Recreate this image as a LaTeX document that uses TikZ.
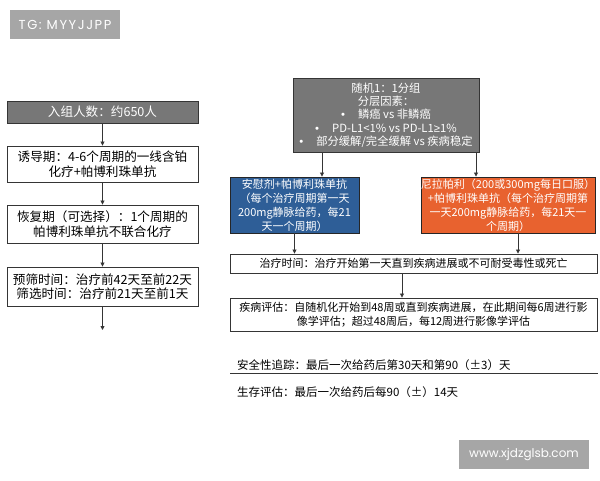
\documentclass[tikz,border=0pt]{standalone}
\usepackage{fontspec}
\setmainfont{Noto Sans CJK SC}
\newfontfamily\wmfont{Poppins}
\newfontfamily\wmwide[LetterSpace=12]{Poppins}
\newfontfamily\latfont{Liberation Sans}
\usetikzlibrary{arrows.meta}
\definecolor{boxgray}{HTML}{777777}
\definecolor{boxblue}{HTML}{2E5E97}
\definecolor{boxorange}{HTML}{E8622F}
\definecolor{wmgray}{HTML}{A6A6A6}
\definecolor{linecol}{HTML}{353535}
\begin{document}
\begin{tikzpicture}[x=1pt,y=-1pt,
  box/.style={draw=linecol, line width=0.9pt, inner sep=0pt, align=center, fill=white},
  leftbox/.style={box, minimum width=191pt, font=\fontsize{12.6}{14.5}\selectfont},
  darkbox/.style={box, fill=boxgray, text=white},
  bluebox/.style={box, fill=boxblue, draw=black!85, text=white, font=\fontsize{11}{14}\selectfont},
  orangebox/.style={box, fill=boxorange, draw=black!85, text=white, font=\fontsize{11}{14}\selectfont},
  widebox/.style={box, minimum width=367pt, font=\fontsize{11}{13.5}\selectfont},
  plain/.style={inner sep=0pt, anchor=west, font=\fontsize{11.5}{14}\selectfont},
  wm/.style={fill=wmgray, text=white, inner sep=0pt, font=\wmfont\fontsize{12}{14}\selectfont},
  arr/.style={draw=linecol, line width=0.8pt, -{Triangle[length=4pt,width=4pt]}},
  sep/.style={draw=linecol, line width=0.8pt}
]
\useasboundingbox[fill=white] (0,0) rectangle (600,480);

% watermarks
\node[wm, minimum width=110pt, minimum height=29pt, font=\wmwide\fontsize{13}{15}\selectfont] (tg) at (65,24.5) {TG: MYYJJPP};
\node[wm, minimum width=130pt, minimum height=29pt] (site) at (524,454.5) {www.xjdzglsb.com};

% left column
\node[leftbox, darkbox, minimum height=22pt] (b1) at (102.5,112) {入组人数：约650人};
\node[leftbox, minimum height=36pt] (b2) at (102.5,164) {诱导期：4-6个周期的一线含铂\\化疗+帕博利珠单抗};
\node[leftbox, minimum height=38pt] (b3) at (102.5,224) {恢复期（可选择）：1个周期的\\帕博利珠单抗不联合化疗};
\node[leftbox, minimum height=39pt] (b4) at (102.5,286.5) {预筛时间：治疗前42天至前22天\\筛选时间：治疗前21天至前1天};
\coordinate (lend) at (102.5,330);
\draw[arr] (b1) -- (b2);
\draw[arr] (b2) -- (b3);
\draw[arr] (b3) -- (b4);
\draw[arr] (b4) -- (lend);

% right column
\node[darkbox, minimum width=186pt, minimum height=74pt, font=\fontsize{11.3}{13.3}\selectfont] (rand) at (386,115)
  {随机1：1分组\\分层因素：\\{\latfont •}\hspace{13pt}鳞癌 vs 非鳞癌\\{\latfont •}\hspace{13pt}PD-L1<1\% vs PD-L1{\latfont ≥}1\%\\{\latfont •}\hspace{13pt}部分缓解/完全缓解 vs 疾病稳定};
\node[bluebox, minimum width=129pt, minimum height=56pt] (blue) at (294.5,205)
  {安慰剂+帕博利珠单抗\\（每个治疗周期第一天\\200mg静脉给药，每21\\天一个周期）};
\node[orangebox, minimum width=172pt, minimum height=56pt] (orange) at (508,205)
  {尼拉帕利（200或300mg每日口服）\\+帕博利珠单抗（每个治疗周期第\\一天200mg静脉给药，每21天一\\个周期）};
\node[widebox, minimum height=19pt] (treat) at (413.5,263.5) {治疗时间：治疗开始第一天直到疾病进展或不可耐受毒性或死亡};
\node[widebox, minimum height=33pt] (eval) at (413.5,314.5) {疾病评估：自随机化开始到48周或直到疾病进展，在此期间每6周进行影\\像学评估；超过48周后，每12周进行影像学评估};

\coordinate (xa) at (322,0);
\coordinate (xb) at (476,0);
\coordinate (xc) at (518,0);
\coordinate (xd) at (402,0);
\draw[arr] (rand.south -| xa) -- (blue.north -| xa);
\draw[arr] (rand.south -| xb) -- (orange.north -| xb);
\draw[arr] (blue.south) -- (treat.north -| blue.south);
\draw[arr] (orange.south -| xc) -- (treat.north -| xc);
\draw[arr] (treat.south -| xd) -- (eval.north -| xd);

\node[plain] (safety) at (237,365.5) {安全性追踪：最后一次给药后第30天和第90（±3）天};
\node[plain] (surv) at (237,392) {生存评估：最后一次给药后每90（±）14天};
\coordinate (sl) at (230,373.5);
\coordinate (sr) at (598,373.5);
\draw[sep] (sl) -- (sr);
\end{tikzpicture}
\end{document}
